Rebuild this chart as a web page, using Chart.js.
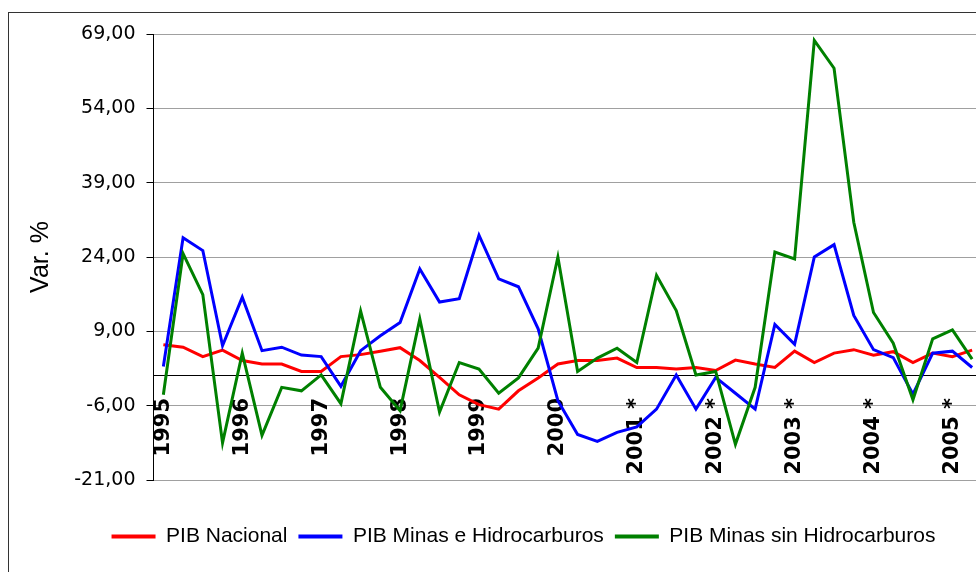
<!DOCTYPE html>
<html><head><meta charset="utf-8">
<script src="https://cdn.jsdelivr.net/npm/chart.js@4/dist/chart.umd.min.js"></script>
<style>
html,body{margin:0;padding:0;background:#fff;overflow:hidden;width:976px;height:572px;}
#frame{position:absolute;left:8px;top:12px;width:1100px;height:700px;border-left:1px solid #333;border-top:1px solid #333;}
#wrap{position:absolute;left:0;top:0;width:1010px;height:572px;}
</style></head><body>
<div id="frame"></div>
<div id="wrap"><canvas id="c" width="1010" height="572"></canvas></div>
<script>
// Quarterly categories 1995-I .. 2005-II (label shown on first quarter of each year)
const categories = [
  "1995","","","",
  "1996","","","",
  "1997","","","",
  "1998","","","",
  "1999","","","",
  "2000","","","",
  "2001 *","","","",
  "2002 *","","","",
  "2003 *","","","",
  "2004 *","","","",
  "2005 *",""
];
const seriesNames = ["PIB Nacional", "PIB Minas e Hidrocarburos", "PIB Minas sin Hidrocarburos"];
const pibNacional = [6.3,5.8,3.9,5.2,3.1,2.4,2.4,0.9,0.9,3.9,
  4.3,5.0,5.7,3.1,-0.3,-3.8,-5.8,-6.7,-3.0,-0.4,
  2.4,3.1,3.1,3.6,1.7,1.7,1.4,1.7,1.1,3.2,
  2.4,1.7,5.0,2.7,4.6,5.3,4.2,4.9,2.7,4.6,
  3.9,5.2];
const pibMinasHidro = [1.9,27.9,25.3,6.1,15.9,5.1,5.8,4.2,3.9,-2.1,
  5.1,8.1,10.8,21.6,14.9,15.6,28.4,19.6,18.0,9.5,
  -5.0,-11.8,-13.2,-11.4,-10.3,-6.7,0.2,-6.7,-0.3,-3.5,
  -6.7,10.4,6.4,24.0,26.5,12.2,5.3,3.7,-3.7,4.6,
  5.0,1.7];
const pibMinasSinHidro = [-3.8,24.7,16.4,-13.5,4.6,-12.0,-2.3,-3.0,0.2,-5.6,
  13.1,-2.3,-7.0,11.5,-7.3,2.7,1.4,-3.5,-0.4,5.6,
  24.0,0.9,3.6,5.6,2.7,20.3,13.2,0.2,0.9,-13.8,
  -2.3,25.0,23.6,67.7,62.1,31.0,12.8,6.6,-4.8,7.5,
  9.3,3.4];
const yMin = -21, yMax = 69, yStep = 15;
const colors = ["#ff0000", "#0000ff", "#008000"];

const seriesData = [pibNacional, pibMinasHidro, pibMinasSinHidro];
const datasets = seriesData.map((d, i) => ({
  label: seriesNames[i],
  data: d,
  borderColor: colors[i],
  backgroundColor: colors[i],
  borderWidth: 3,
  pointRadius: 0,
  pointHoverRadius: 0,
  tension: 0,
  fill: false,
  order: 3 - i
}));

new Chart(document.getElementById('c'), {
  type: 'line',
  data: { labels: categories, datasets: datasets },
  options: {
    responsive: false,
    animation: false,
    devicePixelRatio: 1,
    layout: { padding: { left: 65, right: 28, top: 34, bottom: 15 } },
    plugins: {
      tooltip: { enabled: false },
      legend: {
        position: 'bottom',
        labels: {
          font: { family: 'Liberation Sans', size: 21 },
          color: '#000',
          boxWidth: 44,
          boxHeight: 4,
          padding: 11,
          sort: (a, b) => a.datasetIndex - b.datasetIndex,
          generateLabels: (chart) => Chart.defaults.plugins.legend.labels.generateLabels(chart)
            .map(l => Object.assign({}, l, { lineWidth: 0, fillStyle: l.strokeStyle }))
        }
      }
    },
    scales: {
      x: {
        type: 'category',
        offset: true,
        position: { y: 0 },
        grid: { display: false, drawTicks: false },
        border: { display: true, color: '#000', width: 1 },
        ticks: {
          autoSkip: false, minRotation: 90, maxRotation: 90, padding: 22,
          font: { family: 'DejaVu Sans', size: 21, weight: 'bold' }, color: '#000'
        },
        afterFit: (s) => { s.height = 0; s.paddingLeft = 0; s.paddingRight = 0; }
      },
      gap: {
        type: 'category',
        axis: 'x',
        position: 'bottom',
        grid: { display: false, drawTicks: false },
        border: { display: false },
        ticks: { display: false },
        afterFit: (s) => { s.height = 35; s.paddingLeft = 0; s.paddingRight = 0; }
      },
      y: {
        min: yMin, max: yMax,
        ticks: {
          stepSize: yStep,
          callback: (v) => Number(v).toFixed(2).replace('.', ','),
          font: { family: 'DejaVu Sans', size: 19 }, color: '#000', padding: 11
        },
        grid: { color: '#a0a0a0', tickColor: '#000', tickLength: 7, lineWidth: 1 },
        border: { display: true, color: '#000', width: 1 },
        title: {
          display: true, text: 'Var. %', color: '#000',
          font: { family: 'Liberation Sans', size: 25 },
          padding: { top: -39, bottom: 0 }
        },
        afterFit: (s) => { s.width = 88.5; }
      }
    }
  }
});
</script>
</body></html>
